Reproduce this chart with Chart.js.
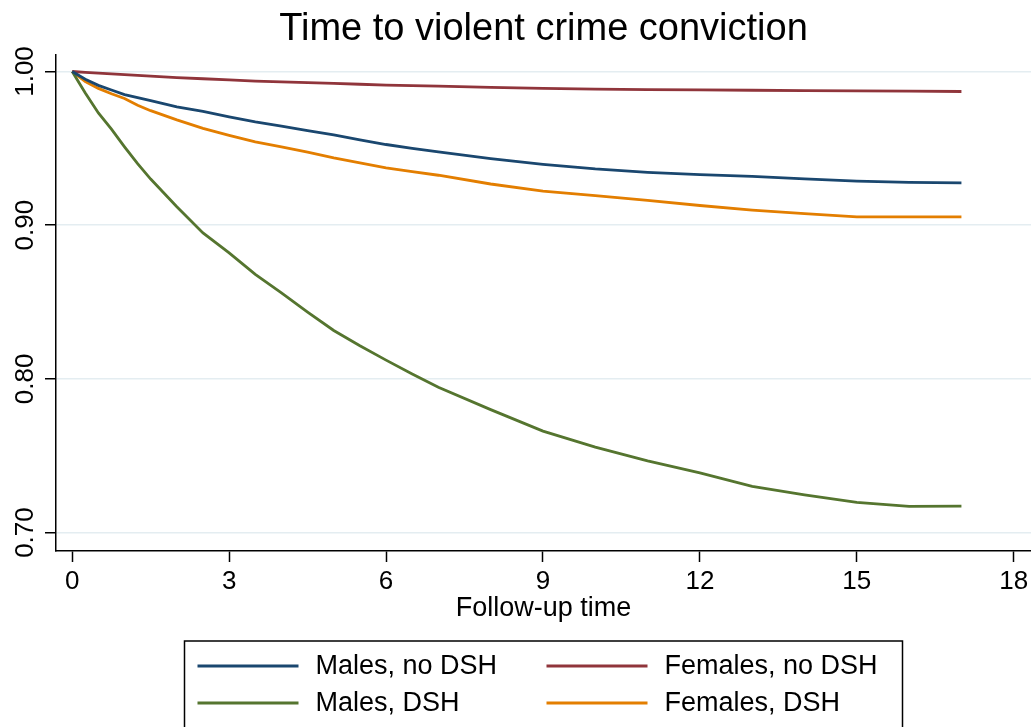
<!DOCTYPE html>
<html>
<head>
<meta charset="utf-8">
<script src="https://cdn.jsdelivr.net/npm/chart.js@4"></script>
<style>
body { margin: 0; background: #fff; }
</style>
</head>
<body>
<canvas id="graph" width="1031" height="727"></canvas>
<script>
// follow-up years and survival estimates
const years = [0, 0.25, 0.5, 0.75, 1, 1.25, 1.5, 2, 2.5, 3, 3.5, 4, 4.5, 5, 5.5, 6, 6.5, 7, 8, 9, 10, 11, 12, 13, 14, 15, 16, 17];
const malesNoDSH = [1, 0.995, 0.991, 0.988, 0.985, 0.983, 0.981, 0.977, 0.974, 0.9705, 0.9673, 0.9645, 0.9615, 0.9587, 0.9555, 0.9525, 0.950, 0.9477, 0.9433, 0.9396, 0.9366, 0.9344, 0.9329, 0.9317, 0.9301, 0.9287, 0.9278, 0.9275];
const femalesNoDSH = [1, 0.9995, 0.999, 0.9985, 0.998, 0.9975, 0.997, 0.996, 0.9953, 0.9945, 0.9938, 0.9932, 0.9927, 0.9923, 0.9917, 0.9912, 0.9908, 0.9905, 0.9897, 0.989, 0.9885, 0.9882, 0.988, 0.9878, 0.9876, 0.9874, 0.9872, 0.987];
const malesDSH = [1, 0.986, 0.973, 0.9625, 0.951, 0.940, 0.930, 0.912, 0.895, 0.882, 0.868, 0.856, 0.8435, 0.8315, 0.8215, 0.8122, 0.8032, 0.7945, 0.780, 0.766, 0.7556, 0.7467, 0.7388, 0.730, 0.7245, 0.7197, 0.717, 0.7172];
const femalesDSH = [1, 0.9935, 0.989, 0.9855, 0.9824, 0.978, 0.9745, 0.9685, 0.963, 0.9584, 0.9542, 0.951, 0.9475, 0.9438, 0.9405, 0.9373, 0.9348, 0.9325, 0.9268, 0.9222, 0.9192, 0.9162, 0.9128, 0.9098, 0.9075, 0.9054, 0.9054, 0.9054];

const seriesNames = ["Males, no DSH", "Females, no DSH", "Males, DSH", "Females, DSH"];
const xTicks = [0, 3, 6, 9, 12, 15, 18];
const yTicks = [0.70, 0.80, 0.90, 1.00];

const FONT = '"Liberation Sans", Arial, sans-serif';

function toPoints(vals) {
    return years.map((t, i) => ({ x: t, y: vals[i] }));
}

function line(label, vals, color) {
    return {
        label: label,
        data: toPoints(vals),
        borderColor: color,
        backgroundColor: color,
        borderWidth: 2.8,
        pointRadius: 0,
        fill: false,
        tension: 0
    };
}

// legend in a framed box, two columns like the original
const boxLegend = {
    id: 'boxLegend',
    afterDraw(chart) {
        const ctx = chart.ctx;
        const mid = (chart.chartArea.left + chart.chartArea.right) / 2;
        const left = mid - 359, right = mid + 359, top = 641;
        ctx.save();
        ctx.strokeStyle = '#000';
        ctx.lineWidth = 1.5;
        ctx.strokeRect(left, top, right - left, chart.height - top + 5);
        ctx.font = '27px ' + FONT;
        ctx.textBaseline = 'middle';
        chart.data.datasets.forEach((ds, i) => {
            const col = i % 2, row = Math.floor(i / 2);
            const x = left + 13 + col * 349;
            const y = top + 25 + row * 37;
            ctx.strokeStyle = ds.borderColor;
            ctx.lineWidth = 2.8;
            ctx.beginPath();
            ctx.moveTo(x, y);
            ctx.lineTo(x + 101, y);
            ctx.stroke();
            ctx.fillStyle = '#000';
            ctx.fillText(ds.label, x + 118, y + 1);
        });
        ctx.restore();
    }
};

const ctx = document.getElementById('graph').getContext('2d');
const graph = new Chart(ctx, {
    type: 'line',
    data: {
        datasets: [
            line(seriesNames[0], malesNoDSH, '#1a476f'),
            line(seriesNames[1], femalesNoDSH, '#90353b'),
            line(seriesNames[2], malesDSH, '#55752f'),
            line(seriesNames[3], femalesDSH, '#e37e00')
        ]
    },
    options: {
        responsive: false,
        animation: false,
        layout: { padding: { left: 0, right: 0, top: 0, bottom: 101 } },
        scales: {
            x: {
                type: 'linear',
                min: -0.31,
                max: 18.33,
                afterBuildTicks: s => { s.ticks = xTicks.map(v => ({ value: v })); },
                afterFit: s => { s.height = 75; s.paddingLeft = 0; s.paddingRight = 0; },
                ticks: {
                    color: '#000',
                    font: { family: FONT, size: 26 },
                    padding: 4,
                    maxRotation: 0,
                    callback: v => String(v)
                },
                grid: {
                    drawOnChartArea: false,
                    tickColor: '#000',
                    tickLength: 11,
                    tickWidth: 1.5
                },
                border: { color: '#000', width: 1.5 },
                title: {
                    display: true,
                    text: 'Follow-up time',
                    color: '#000',
                    font: { family: FONT, size: 27 },
                    padding: { top: 0, bottom: 1 }
                }
            },
            y: {
                min: 0.688,
                max: 1.011,
                afterBuildTicks: s => { s.ticks = yTicks.map(v => ({ value: v })); },
                afterFit: s => { s.width = 56; s.paddingTop = 0; s.paddingBottom = 0; },
                ticks: {
                    color: '#000',
                    font: { family: FONT, size: 26 },
                    padding: -6,
                    minRotation: 90,
                    maxRotation: 90,
                    crossAlign: 'center',
                    callback: v => Number(v).toFixed(2)
                },
                grid: {
                    color: '#e4edf1',
                    lineWidth: 1.5,
                    tickColor: '#000',
                    tickLength: 11,
                    tickWidth: 1.5
                },
                border: { color: '#000', width: 1.5 }
            }
        },
        plugins: {
            legend: { display: false },
            tooltip: { enabled: false },
            title: {
                display: true,
                fullSize: false,
                text: 'Time to violent crime conviction',
                color: '#000',
                font: { family: FONT, size: 38, weight: 'normal' },
                padding: { top: 7, bottom: 2 }
            }
        }
    },
    plugins: [boxLegend]
});
</script>
</body>
</html>
